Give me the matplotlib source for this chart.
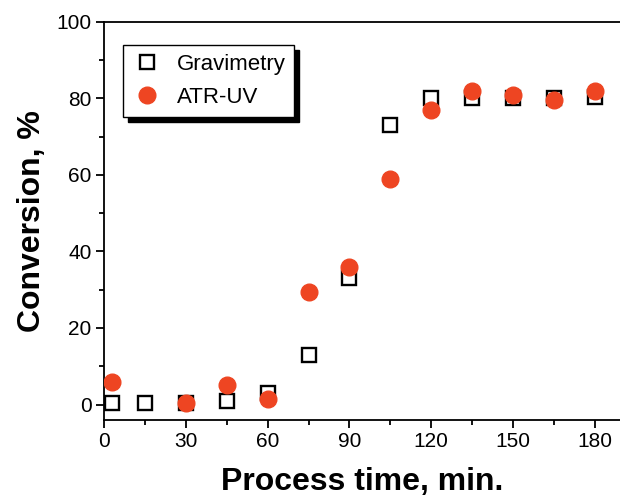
import matplotlib
matplotlib.use("Agg")
import matplotlib.pyplot as plt
from matplotlib.ticker import MultipleLocator

plt.rcParams['font.family'] = ['Liberation Sans', 'DejaVu Sans']

grav_t = [3, 15, 30, 45, 60, 75, 90, 105, 120, 135, 150, 165, 180]
grav_c = [0.5, 0.5, 0.5, 1.0, 3.0, 13.0, 33.0, 73.0, 80.0, 80.0, 80.0, 80.0, 80.5]
atr_t = [3, 30, 45, 60, 75, 90, 105, 120, 135, 150, 165, 180]
atr_c = [6.0, 0.5, 5.0, 1.5, 29.5, 36.0, 59.0, 77.0, 82.0, 81.0, 79.5, 82.0]

fig = plt.figure(figsize=(6.2, 4.98), dpi=100)
ax = fig.add_axes([0.168, 0.157, 0.832, 0.799])

ax.plot(grav_t, grav_c, linestyle='none', marker='s', markersize=10.5,
        markerfacecolor='none', markeredgecolor='black', markeredgewidth=1.7,
        label='Gravimetry', zorder=3)
ax.plot(atr_t, atr_c, linestyle='none', marker='o', markersize=12,
        markerfacecolor='#EE4522', markeredgecolor='#EE4522',
        label='ATR-UV', zorder=4)

ax.set_xlim(0, 189.3)
ax.set_ylim(-4, 100)
ax.xaxis.set_major_locator(MultipleLocator(30))
ax.xaxis.set_minor_locator(MultipleLocator(15))
ax.yaxis.set_major_locator(MultipleLocator(20))
ax.yaxis.set_minor_locator(MultipleLocator(10))
ax.spines['right'].set_visible(False)
for s in ['left', 'bottom', 'top']:
    ax.spines[s].set_linewidth(1.3)
ax.tick_params(which='major', direction='out', length=6, width=1.3, labelsize=15, pad=3)
ax.tick_params(which='minor', direction='out', length=3.5, width=1.3)
ax.tick_params(top=False, right=False, which='both')

ax.set_xlabel('Process time, min.', fontsize=23, fontweight='bold', labelpad=11)
ax.set_ylabel('Conversion, %', fontsize=23, fontweight='bold', labelpad=7)

leg = ax.legend(loc='upper left', bbox_to_anchor=(0.037, 0.942), fontsize=16,
                frameon=True, fancybox=False,
                shadow={'color': 'black', 'alpha': 1.0, 'ox': 3.5, 'oy': -3.5},
                edgecolor='black', borderpad=0.4, handletextpad=0.7,
                labelspacing=0.55, handlelength=1.3, borderaxespad=0)
leg.get_frame().set_linewidth(1.0)

fig.savefig('out.png', dpi=100)
